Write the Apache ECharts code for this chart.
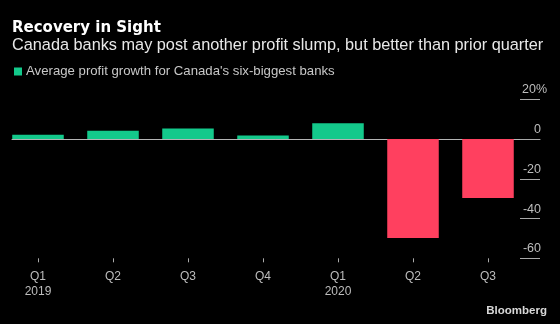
<!DOCTYPE html>
<html>
<head>
<meta charset="utf-8">
<style>
  html, body { margin: 0; padding: 0; background: #000; }
  #chart { width: 560px; height: 324px; }
</style>
<script src="https://cdn.jsdelivr.net/npm/echarts@6/dist/echarts.min.js"></script>
</head>
<body>
<div id="chart"></div>
<script>
// Quarterly average profit growth, Canada's six biggest banks (%)
const quarters = ['Q1', 'Q2', 'Q3', 'Q4', 'Q1', 'Q2', 'Q3'];
const years = ['2019', '', '', '', '2020', '', ''];
const growth = [2.2, 4.2, 5.3, 1.8, 8.0, -49.8, -29.7];
const yTicks = [-60, -40, -20, 0, 20];

const seriesName = "Average profit growth for Canada's six-biggest banks";
const GREEN = '#13c98b';
const RED = '#ff405f';

const categories = quarters.map((q, i) => years[i] ? q + '\n' + years[i] : q);
const yMin = yTicks[0];
const yMax = yTicks[yTicks.length - 1];
const yStep = yTicks[1] - yTicks[0];

const chart = echarts.init(document.getElementById('chart'), null, { renderer: 'canvas' });

const plotTop = 99.3;
const plotHeight = 159;

chart.setOption({
  backgroundColor: '#000',
  animation: false,
  title: [
    {
      text: 'Recovery in Sight',
      left: 12, top: 20.5, padding: 0,
      textStyle: { color: '#ffffff', fontFamily: 'DejaVu Sans', fontWeight: 'bold', fontSize: 15 }
    },
    {
      text: 'Canada banks may post another profit slump, but better than prior quarter',
      left: 12, top: 37.5, padding: 0,
      textStyle: { color: '#e8e8e8', fontFamily: 'Liberation Sans', fontWeight: 'normal', fontSize: 16.3 }
    },
    {
      text: 'Bloomberg',
      right: 13, top: 305, padding: 0,
      textStyle: { color: '#d8d8d8', fontFamily: 'Liberation Sans', fontWeight: 'bold', fontSize: 11.5 }
    }
  ],
  legend: {
    left: 14, top: 65, padding: 0,
    icon: 'rect', itemWidth: 8, itemHeight: 8, itemGap: 10,
    selectedMode: false,
    data: [{ name: seriesName, itemStyle: { color: GREEN } }],
    textStyle: { color: '#c8c8c8', fontFamily: 'Liberation Sans', fontSize: 13.2, padding: [0, 0, 0, -1] }
  },
  grid: [
    // frame for the zero line and the right-hand value scale
    { left: 12, right: 20, top: plotTop, height: plotHeight, containLabel: false },
    // frame for the bars and the quarter labels
    { left: 0.5, width: 525, top: plotTop, height: plotHeight, containLabel: false }
  ],
  xAxis: [
    {
      type: 'category', gridIndex: 0, data: categories,
      axisLine: { show: true, onZero: true, lineStyle: { color: '#b4b4b4', width: 1 } },
      axisTick: { show: false }, axisLabel: { show: false }, splitLine: { show: false }
    },
    {
      type: 'category', gridIndex: 1, data: categories, position: 'bottom',
      axisLine: { show: false, onZero: false },
      axisTick: { show: true, alignWithLabel: true, length: 4, lineStyle: { color: '#aaaaaa' } },
      axisLabel: {
        color: '#bdbdbd', fontFamily: 'Liberation Sans', fontSize: 12, lineHeight: 14.7,
        margin: 11, interval: 0
      },
      splitLine: { show: false }
    }
  ],
  yAxis: [
    {
      type: 'value', gridIndex: 0, position: 'right',
      min: yMin, max: yMax, interval: yStep,
      axisLine: { show: false },
      axisTick: { show: true, inside: true, length: 20, lineStyle: { color: '#a8a8a8', width: 1 } },
      splitLine: { show: false },
      axisLabel: {
        inside: true, margin: -7, align: 'right', verticalAlign: 'bottom',
        color: '#bdbdbd', fontFamily: 'Liberation Sans', fontSize: 12.5,
        formatter: v => v === yMax ? '{n|' + v + '%}' : '{m|' + v + '}',
        rich: {
          n: { color: '#bdbdbd', fontFamily: 'Liberation Sans', fontSize: 12.5, lineHeight: 13, padding: [0, 0, 6, 0] },
          m: { color: '#bdbdbd', fontFamily: 'Liberation Sans', fontSize: 12.5, lineHeight: 13, padding: [0, 6, 6, 0] }
        }
      }
    },
    {
      type: 'value', gridIndex: 1, min: yMin, max: yMax, interval: yStep,
      show: false
    }
  ],
  series: [
    {
      name: seriesName,
      type: 'bar',
      xAxisIndex: 1, yAxisIndex: 1,
      barCategoryGap: '31.3%',
      color: GREEN,
      data: growth.map(v => ({ value: v, itemStyle: { color: v >= 0 ? GREEN : RED } })),
      z: 3
    }
  ]
});
</script>
</body>
</html>
